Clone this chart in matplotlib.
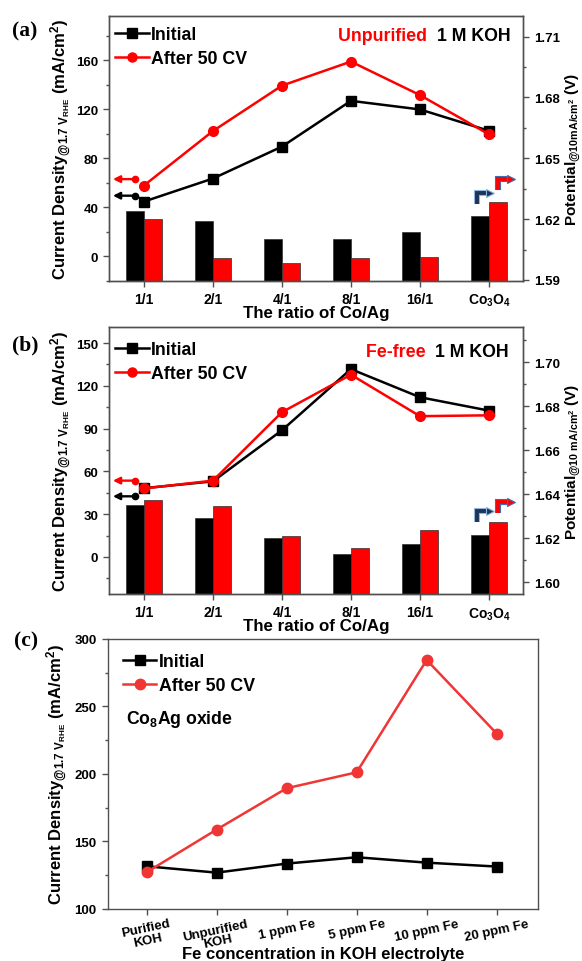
import matplotlib
matplotlib.use('Agg')
import matplotlib.pyplot as plt
import matplotlib.patheffects as pe
import matplotlib.transforms as mtrans
from matplotlib.ticker import MultipleLocator, FormatStrFormatter
from matplotlib.lines import Line2D
import numpy as np

plt.rcParams['font.family'] = ['Liberation Sans', 'DejaVu Sans']
plt.rcParams['font.weight'] = 'bold'
plt.rcParams['mathtext.fontset'] = 'custom'
plt.rcParams['mathtext.rm'] = 'Liberation Sans'
plt.rcParams['mathtext.bf'] = 'Liberation Sans:bold'
plt.rcParams['mathtext.it'] = 'Liberation Sans:italic'
plt.rcParams['mathtext.default'] = 'bf'

# ---------------- data ----------------
ratios = ['1/1', '2/1', '4/1', '8/1', '16/1', 'Co$_3$O$_4$']

a_cd_initial = [44.7, 63.5, 89.5, 126.8, 119.8, 102.4]
a_cd_after = [57.8, 102.2, 139.2, 158.8, 131.5, 99.5]
a_pot_initial = [1.6239, 1.6193, 1.6101, 1.6102, 1.6138, 1.6215]
a_pot_after = [1.6201, 1.6007, 1.5985, 1.6010, 1.6015, 1.6283]

b_cd_initial = [48.2, 53.0, 88.8, 131.7, 112.0, 102.6]
b_cd_after = [48.0, 53.5, 101.5, 127.8, 98.7, 99.3]
b_pot_initial = [1.6350, 1.6294, 1.6203, 1.6128, 1.6175, 1.6217]
b_pot_after = [1.6374, 1.6347, 1.6212, 1.6157, 1.6236, 1.6274]

c_labels = ['Purified\nKOH', 'Unpurified\nKOH', '1 ppm Fe', '5 ppm Fe',
            '10 ppm Fe', '20 ppm Fe']
c_initial = [131.6, 126.9, 133.6, 138.3, 134.3, 131.4]
c_after = [127.2, 158.8, 189.4, 201.2, 284.4, 229.9]

series_names = ['Initial', 'After 50 CV']

RED = '#ff0000'
RED_C = '#f03535'
BLK = '#000000'
SPINE = '#505050'

ylabel_cd = r'Current Density$_{\mathrm{@1.7\ V_{RHE}}}$ (mA/cm$^{2}$)'

fig = plt.figure(figsize=(5.82, 9.62), dpi=100)


def style_axis(ax):
    for s in ax.spines.values():
        s.set_color(SPINE)
        s.set_linewidth(1.0)
    ax.tick_params(which='both', direction='out', color=SPINE, labelsize=9.5,
                   width=1.0)
    ax.tick_params(which='major', length=4.5)
    ax.tick_params(which='minor', length=2.5)


def legend(ax, anchor, red=RED, ms_c=6.5):
    h = [Line2D([], [], color=BLK, marker='s', ms=6.5, lw=1.8),
         Line2D([], [], color=red, marker='o', ms=ms_c, lw=1.8)]
    ax.legend(h, series_names, loc='upper left', bbox_to_anchor=anchor,
              frameon=False, fontsize=12.8, handlelength=1.9, handletextpad=0.15,
              labelspacing=0.4, borderaxespad=0, borderpad=0)


def bent_arrow(ax, xc, yc, col, edge):
    # small "turn right" arrow drawn in pixel offsets around a data anchor
    px, py = ax.transData.transform((xc, yc))
    s = 6.5
    xs = [px - s, px - s, px + s - 2]
    ys = [py - s, py + s - 2, py + s - 2]
    ax.plot(xs, ys, color=col, lw=2.8, transform=mtrans.IdentityTransform(),
            solid_joinstyle='miter', solid_capstyle='butt', clip_on=False,
            path_effects=[pe.Stroke(linewidth=4.4, foreground=edge),
                          pe.Normal()], zorder=5)
    ax.plot([px + s], [py + s - 2], marker='>', ms=6, color=col,
            mec=edge, mew=0.8, transform=mtrans.IdentityTransform(),
            clip_on=False, zorder=5)


def ratio_panel(rect, cd_i, cd_a, pot_i, pot_a, ylim_l, ylim_r, lmaj, lmin,
                rticks, rmin, rlabel, red_word, arrows_l, arrows_r,
                tag, text_pos, leg_anchor):
    ax = fig.add_axes(rect)
    ax2 = ax.twinx()
    x = np.arange(len(ratios))
    w = 0.26
    ax2.bar(x - w / 2, np.array(pot_i) - ylim_r[0], w, bottom=ylim_r[0],
            color=BLK, edgecolor='#303030', lw=0.5)
    ax2.bar(x + w / 2, np.array(pot_a) - ylim_r[0], w, bottom=ylim_r[0],
            color=RED, edgecolor='#303030', lw=0.5)
    ax2.set_ylim(*ylim_r)
    ax2.set_yticks(rticks)
    ax2.yaxis.set_minor_locator(MultipleLocator(rmin))
    ax2.yaxis.set_major_formatter(FormatStrFormatter('%.2f'))
    ax2.set_ylabel(rlabel, fontsize=11, fontweight='bold')
    ax2.yaxis.set_label_coords(1.097, 0.5)

    ax.set_zorder(ax2.get_zorder() + 1)
    ax.patch.set_visible(False)
    ax.plot(x, cd_i, color=BLK, marker='s', ms=6.5, lw=1.8)
    ax.plot(x, cd_a, color=RED, marker='o', ms=7, lw=1.8)
    ax.set_xlim(-0.5, 5.5)
    ax.set_yticks(np.arange(0, ylim_l[1], lmaj))
    ax.yaxis.set_minor_locator(MultipleLocator(lmin))
    ax.set_ylim(*ylim_l)
    ax.set_xticks(x)
    ax.set_xticklabels(ratios)
    ax.set_xlabel('The ratio of Co/Ag', fontsize=12.2, fontweight='bold')
    ax.xaxis.set_label_coords(0.5, -0.09)
    ax.set_ylabel(ylabel_cd, fontsize=12, fontweight='bold')
    ax.yaxis.set_label_coords(-0.088, 0.5)
    style_axis(ax)
    style_axis(ax2)
    ax.tick_params(axis='x', labelsize=10)

    legend(ax, leg_anchor)

    # left pointing arrows with dot
    for yv, col in zip(arrows_l, [RED, BLK]):
        ax.annotate('', xy=(-0.45, yv), xytext=(-0.13, yv),
                    arrowprops=dict(arrowstyle='-|>', color=col, lw=1.7,
                                    mutation_scale=10, shrinkA=0, shrinkB=0))
        ax.plot([-0.13], [yv], 'o', color=col, ms=4.5)

    # bent right-pointing arrows
    for (xv, yv), col, edge in zip(arrows_r, ['#1c3558', RED],
                                   ['#93b6e0', '#3d6fb0']):
        bent_arrow(ax2, xv, yv, col, edge)

    t1 = ax.text(text_pos[0], text_pos[1], '1 M KOH', transform=ax.transAxes,
                 ha='right', va='center', fontsize=12.8, color=BLK)
    ax.annotate(red_word + '  ', xy=(0, 0.5), xycoords=t1, ha='right',
                va='center', fontsize=12.8, color=RED)

    fig.text(tag[0], tag[1], tag[2], family='Liberation Serif',
             fontweight='bold', fontsize=15.5, ha='left', va='center')
    return ax, ax2


ratio_panel([0.1881, 0.7069, 0.7112, 0.2755], a_cd_initial, a_cd_after,
            a_pot_initial, a_pot_after, (-20, 196), (1.5895, 1.7202),
            40, 20, [1.59, 1.62, 1.65, 1.68, 1.71], 0.015,
            r'Potential$_{\mathbf{@10mA/cm^{2}}}$ (V)', 'Unpurified',
            [63, 49.5], [(4.92, 1.6305), (5.22, 1.6375)],
            (0.02, 1 - 31 / 962, '(a)'), (0.968, 0.925), (0.013, 0.962))

ratio_panel([0.1881, 0.3815, 0.7112, 0.2772], b_cd_initial, b_cd_after,
            b_pot_initial, b_pot_after, (-26, 161), (1.5947, 1.7159),
            30, 15, [1.60, 1.62, 1.64, 1.66, 1.68, 1.70], 0.01,
            r'Potential$_{\mathbf{@10\ mA/cm^{2}}}$ (V)', 'Fe-free',
            [53.5, 42.5], [(4.92, 1.6305), (5.22, 1.6345)],
            (0.02, 1 - 345 / 962, '(b)'), (0.965, 0.911), (0.013, 0.949))

# ---------------- panel c ----------------
axc = fig.add_axes([0.1849, 0.0541, 0.7395, 0.2807])
xc = np.arange(len(c_labels))
axc.plot(xc, c_initial, color=BLK, marker='s', ms=6.5, lw=1.8)
axc.plot(xc, c_after, color=RED_C, marker='o', ms=7.5, lw=1.8)
axc.set_xlim(-0.557, 5.59)
axc.set_ylim(100, 300)
axc.yaxis.set_major_locator(MultipleLocator(50))
axc.yaxis.set_minor_locator(MultipleLocator(25))
axc.set_xticks(xc)
axc.set_xticklabels(c_labels, rotation=12, ha='center', multialignment='center',
                    linespacing=0.95)
style_axis(axc)
axc.tick_params(axis='x', labelsize=9.5, pad=1.5)
axc.set_ylabel(ylabel_cd, fontsize=12, fontweight='bold')
axc.yaxis.set_label_coords(-0.09, 0.5)
axc.set_xlabel('Fe concentration in KOH electrolyte', fontsize=12,
               fontweight='bold')
axc.xaxis.set_label_coords(0.5, -0.138)
legend(axc, (0.035, 0.948), red=RED_C, ms_c=7.5)
axc.text(0.043, 0.707, 'Co$_{8}$Ag oxide', transform=axc.transAxes,
         ha='left', va='center', fontsize=12.7)
fig.text(0.024, 1 - 641 / 962, '(c)', family='Liberation Serif',
         fontweight='bold', fontsize=15.5, ha='left', va='center')

fig.savefig('out.png', dpi=100)
